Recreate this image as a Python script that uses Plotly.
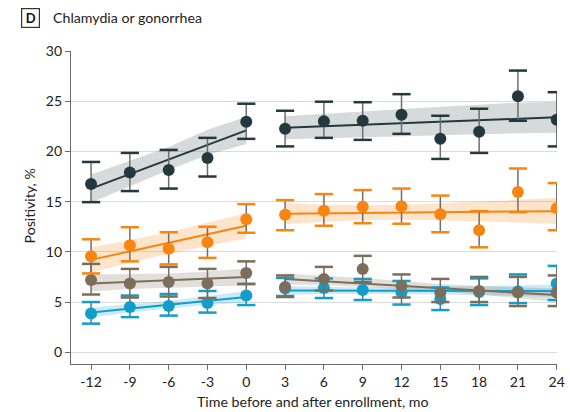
import plotly.graph_objects as go

# Months relative to enrollment
months_pre = [-12, -9, -6, -3, 0]
months_post = [3, 6, 9, 12, 15, 18, 21, 24]
tick_vals = [-12, -9, -6, -3, 0, 3, 6, 9, 12, 15, 18, 21, 24]
tick_text = ["-12", "-9", "-6", "-3", "0", "3", "6", "9", "12", "15", "18", "21", "24"]
y_ticks = [0, 5, 10, 15, 20, 25, 30]

# Observed positivity (%) with 95% CI, pre and post enrollment
dark_pre = [16.75, 17.9, 18.15, 19.35, 22.95]
dark_pre_lo = [14.95, 16.05, 16.3, 17.5, 21.25]
dark_pre_hi = [18.95, 19.85, 20.15, 21.35, 24.75]
dark_post = [22.25, 23.0, 23.05, 23.65, 21.25, 21.95, 25.5, 23.15]
dark_post_lo = [20.5, 21.35, 21.15, 21.75, 19.25, 19.85, 23.05, 20.5]
dark_post_hi = [24.05, 24.95, 24.9, 25.7, 23.55, 24.25, 28.05, 25.9]

orange_pre = [9.55, 10.65, 10.3, 10.95, 13.25]
orange_pre_lo = [7.85, 9.05, 8.75, 9.4, 11.9]
orange_pre_hi = [11.25, 12.45, 11.95, 12.5, 14.75]
orange_post = [13.7, 14.1, 14.5, 14.55, 13.75, 12.15, 15.95, 14.35]
orange_post_lo = [12.15, 12.6, 12.85, 12.8, 11.95, 10.45, 13.95, 12.15]
orange_post_hi = [15.15, 15.75, 16.15, 16.3, 15.6, 14.05, 18.3, 16.85]

brown_pre = [7.2, 6.85, 7.0, 6.85, 7.9]
brown_pre_lo = [5.75, 5.45, 5.55, 5.4, 6.8]
brown_pre_hi = [8.8, 8.3, 8.5, 8.3, 9.05]
brown_post = [6.5, 7.3, 8.3, 6.6, 5.95, 6.1, 5.95, 5.95]
brown_post_lo = [5.5, 6.15, 7.0, 5.45, 5.0, 5.0, 4.6, 4.6]
brown_post_hi = [7.65, 8.5, 9.6, 7.75, 7.3, 7.5, 7.5, 7.65]

blue_pre = [3.85, 4.5, 4.6, 4.9, 5.65]
blue_pre_lo = [2.85, 3.5, 3.65, 3.95, 4.7]
blue_pre_hi = [5.0, 5.65, 5.8, 6.1, 6.8]
blue_post = [6.35, 6.4, 6.2, 5.95, 5.3, 6.0, 6.05, 6.85]
blue_post_lo = [5.6, 5.4, 5.2, 4.75, 4.2, 4.7, 4.9, 5.2]
blue_post_hi = [7.4, 7.35, 7.3, 7.1, 6.45, 7.35, 7.75, 8.6]

# Fitted segmented trends with 95% confidence bands
dark_fit_pre = [16.3, 22.1]
dark_band_pre_lo = [14.9, 16.55, 18.15, 19.65, 20.75]
dark_band_pre_hi = [17.7, 19.05, 20.45, 22.15, 23.45]
dark_fit_post = [22.35, 23.4]
dark_band_post_lo = [21.2, 21.35, 21.45, 21.55, 21.6, 21.7, 21.8, 21.85]
dark_band_post_hi = [23.5, 23.75, 24.0, 24.25, 24.45, 24.65, 24.85, 24.95]

orange_fit_pre = [9.2, 12.6]
orange_band_pre_lo = [7.95, 8.95, 9.8, 10.6, 11.35]
orange_band_pre_hi = [10.45, 11.15, 11.95, 12.9, 13.85]
orange_fit_post = [13.8, 14.05]
orange_band_post_lo = [12.75, 13.0, 13.15, 13.2, 13.15, 13.05, 12.95, 12.8]
orange_band_post_hi = [14.85, 14.7, 14.65, 14.7, 14.85, 15.0, 15.2, 15.35]

brown_fit_pre = [6.85, 7.5]
brown_band_pre_lo = [6.05, 6.3, 6.45, 6.55, 6.65]
brown_band_pre_hi = [7.75, 7.8, 7.85, 8.05, 8.35]
brown_fit_post = [7.3, 5.7]
brown_band_post_lo = [6.75, 6.7, 6.5, 6.3, 6.05, 5.75, 5.4, 5.0]
brown_band_post_hi = [7.85, 7.65, 7.4, 7.1, 6.8, 6.6, 6.45, 6.35]

blue_fit_pre = [3.95, 5.5]
blue_band_pre_lo = [3.45, 3.95, 4.35, 4.7, 4.95]
blue_band_pre_hi = [4.45, 4.75, 5.1, 5.6, 6.1]
blue_fit_post = [6.15, 6.1]
blue_band_post_lo = [5.7, 5.8, 5.8, 5.8, 5.75, 5.7, 5.6, 5.5]
blue_band_post_hi = [6.6, 6.5, 6.45, 6.45, 6.5, 6.55, 6.65, 6.75]

colors = {
    "dark": "#24393f",
    "orange": "#f8850f",
    "brown": "#7d6e5b",
    "blue": "#109ecb",
}
bands = {
    "dark": "rgba(36,57,63,0.19)",
    "orange": "rgba(248,133,15,0.22)",
    "brown": "rgba(125,110,91,0.22)",
    "blue": "rgba(16,158,203,0.22)",
}

series = {
    "dark": dict(pre=dark_pre, pre_lo=dark_pre_lo, pre_hi=dark_pre_hi,
                 post=dark_post, post_lo=dark_post_lo, post_hi=dark_post_hi,
                 fit_pre=dark_fit_pre, fit_post=dark_fit_post,
                 bpl=dark_band_pre_lo, bph=dark_band_pre_hi,
                 bql=dark_band_post_lo, bqh=dark_band_post_hi),
    "orange": dict(pre=orange_pre, pre_lo=orange_pre_lo, pre_hi=orange_pre_hi,
                   post=orange_post, post_lo=orange_post_lo, post_hi=orange_post_hi,
                   fit_pre=orange_fit_pre, fit_post=orange_fit_post,
                   bpl=orange_band_pre_lo, bph=orange_band_pre_hi,
                   bql=orange_band_post_lo, bqh=orange_band_post_hi),
    "brown": dict(pre=brown_pre, pre_lo=brown_pre_lo, pre_hi=brown_pre_hi,
                  post=brown_post, post_lo=brown_post_lo, post_hi=brown_post_hi,
                  fit_pre=brown_fit_pre, fit_post=brown_fit_post,
                  bpl=brown_band_pre_lo, bph=brown_band_pre_hi,
                  bql=brown_band_post_lo, bqh=brown_band_post_hi),
    "blue": dict(pre=blue_pre, pre_lo=blue_pre_lo, pre_hi=blue_pre_hi,
                 post=blue_post, post_lo=blue_post_lo, post_hi=blue_post_hi,
                 fit_pre=blue_fit_pre, fit_post=blue_fit_post,
                 bpl=blue_band_pre_lo, bph=blue_band_pre_hi,
                 bql=blue_band_post_lo, bqh=blue_band_post_hi),
}
draw_order = ["blue", "brown", "orange", "dark"]

fig = go.Figure()

# Confidence bands (drawn beneath everything else)
for name in draw_order:
    s = series[name]
    for xs, lo, hi in [(months_pre, s["bpl"], s["bph"]), (months_post, s["bql"], s["bqh"])]:
        fig.add_trace(go.Scatter(
            x=xs + xs[::-1], y=hi + lo[::-1], fill="toself",
            fillcolor=bands[name], line=dict(width=0), mode="lines",
            hoverinfo="skip", showlegend=False))

# Fitted trend lines
for name in draw_order:
    s = series[name]
    for xs, fit in [([months_pre[0], months_pre[-1]], s["fit_pre"]),
                    ([months_post[0], months_post[-1]], s["fit_post"])]:
        fig.add_trace(go.Scatter(x=xs, y=fit, mode="lines",
                                 line=dict(color=colors[name], width=2),
                                 hoverinfo="skip", showlegend=False))

# Observed points with error bars
for name in draw_order:
    s = series[name]
    xs = months_pre + months_post
    ys = s["pre"] + s["post"]
    lo = s["pre_lo"] + s["post_lo"]
    hi = s["pre_hi"] + s["post_hi"]
    fig.add_trace(go.Scatter(
        x=xs, y=ys, mode="markers", marker=dict(size=0.1, opacity=0),
        error_y=dict(type="data", symmetric=False,
                     array=[h - y for h, y in zip(hi, ys)],
                     arrayminus=[y - l for y, l in zip(ys, lo)],
                     color="#6e6e6e", thickness=1.5, width=0),
        hoverinfo="skip", showlegend=False))
    fig.add_trace(go.Scatter(
        x=xs + xs, y=hi + lo, mode="markers",
        marker=dict(symbol="line-ew", size=13,
                    line=dict(color=colors[name], width=2.5)),
        hoverinfo="skip", showlegend=False))
    fig.add_trace(go.Scatter(
        x=xs, y=ys, mode="markers",
        marker=dict(color=colors[name], size=12, line=dict(width=0)),
        showlegend=False))

font_family = "Lato, 'Open Sans', sans-serif"

L, R, T, B = 71, 13, 51, 48
W, H = 570, 412
plot_w = W - L - R
plot_h = H - T - B


def px_x(x):
    return (x - L) / plot_w


def px_y(y):
    return (H - B - y) / plot_h


fig.update_layout(
    width=W, height=H,
    margin=dict(l=L, r=R, t=T, b=B),
    plot_bgcolor="white", paper_bgcolor="white",
    font=dict(family=font_family, size=14, color="#222222"),
    xaxis=dict(
        range=[-13.55, 24.02], tickmode="array", tickvals=tick_vals, ticktext=tick_text,
        showgrid=False, zeroline=False, showline=True, linecolor="#6b6b6b", linewidth=1.3,
        ticks="outside", ticklen=5, tickcolor="#6b6b6b", tickwidth=1.2,
        tickfont=dict(size=14), automargin=False,
    ),
    yaxis=dict(
        range=[-1.17, 30.0], tickmode="array", tickvals=y_ticks,
        showgrid=True, gridcolor="#dcdcdc", gridwidth=1.3, zeroline=False,
        showline=True, linecolor="#6b6b6b", linewidth=1.3,
        ticks="outside", ticklen=5, tickcolor="#6b6b6b", tickwidth=1.2,
        tickfont=dict(size=14), automargin=False,
    ),
    annotations=[
        dict(text="<b>D</b>", x=px_x(30.5), y=px_y(17.5), xref="paper", yref="paper",
             showarrow=False, font=dict(size=13, color="#111111"),
             bordercolor="#333333", borderwidth=1.2, borderpad=1.5, width=14, height=15,
             xanchor="center", yanchor="middle"),
        dict(text="Chlamydia or gonorrhea", x=px_x(51), y=px_y(17.5), xref="paper", yref="paper",
             showarrow=False, font=dict(size=14.2, color="#222222"),
             xanchor="left", yanchor="middle"),
        dict(text="Positivity, %", x=px_x(28.5), y=px_y(206), xref="paper", yref="paper",
             showarrow=False, textangle=-90, font=dict(size=14.2, color="#222222"),
             xanchor="center", yanchor="middle"),
        dict(text="Time before and after enrollment, mo", x=px_x(312.5), y=px_y(401),
             xref="paper", yref="paper", showarrow=False,
             font=dict(size=14.2, color="#222222"), xanchor="center", yanchor="middle"),
    ],
)

fig.write_html("out.html")
